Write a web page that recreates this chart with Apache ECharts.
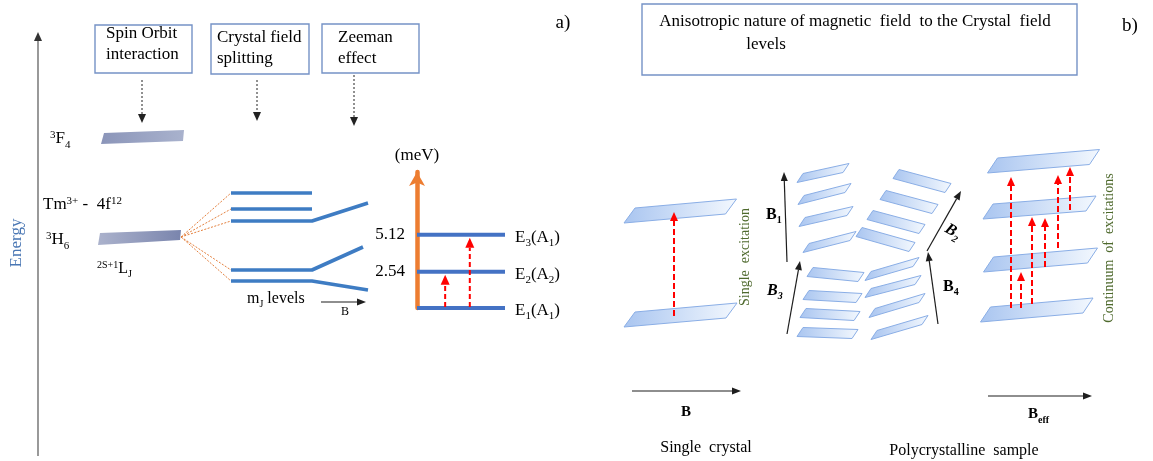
<!DOCTYPE html>
<html>
<head>
<meta charset="utf-8">
<title>Tm3+ crystal-field levels and Zeeman splitting</title>
<script src="https://cdn.jsdelivr.net/npm/echarts@6/dist/echarts.min.js"></script>
<style>
  html, body { margin: 0; padding: 0; background: #ffffff; }
  #chart { width: 1153px; height: 461px; }
</style>
</head>
<body>
<div id="chart"></div>
<script>
// ---------------------------------------------------------------------------
// Physical values: crystal-field levels of the Tm3+ 3H6 ground multiplet
// ---------------------------------------------------------------------------
const levelEnergies = [0, 2.54, 5.12];                     // meV
const levelNames = ['E_{1}(A_{1})', 'E_{2}(A_{2})', 'E_{3}(A_{1})'];
const transitionsFrom = [0, 0];                            // meV
const transitionsTo = [2.54, 5.12];                        // meV
const transitionSlots = [0.32, 0.6];                       // position along the level (0..1)
const energyAxisMax = 9.5;

// ---------------------------------------------------------------------------
// Schematic geometry, in diagram units (x: 0..1153, y: 0..461 from the top)
// ---------------------------------------------------------------------------
const headerBoxes = [[95, 25, 192, 73], [211, 24, 309, 74], [322, 24, 419, 73], [642, 4, 1077, 75]];
const headerArrows = [[142, 80, 142, 123], [257, 80, 257, 121], [354, 75, 354, 126]];
const energyArrow = [[38, 456, 38, 32]];
const termBars = [
  [101, 144, 104, 133, 184, 130, 183, 141],   // 3F4
  [98, 245, 100, 233, 181, 230, 180, 240]     // 3H6
];
const fanApex = [181, 237];
const cfLevelY = [193, 209, 221, 270, 281];
const cfSpan = [231, 312];
const zeemanEnds = [null, null, [368, 203], [363, 247], [368, 290]];
const fieldArrows = [
  [321, 302, 366, 302],     // B (Zeeman)
  [632, 391, 741, 391],     // B single crystal
  [988, 396, 1092, 396],    // B_eff
  [787, 262, 784, 172],     // B1
  [787, 334, 800, 261],     // B3
  [927, 251, 961, 191],     // B2
  [938, 324, 928, 252]      // B4
];
// big plates: centre line [xl, yl, xr, yr]
const singleCrystalPlates = [[629.5, 215.5, 731, 206.5], [629.5, 319.5, 731.5, 310.5]];
const continuumPlates = [
  [992.5, 165.5, 1094.5, 157], [988, 211.5, 1091, 203.5],
  [988.5, 264.5, 1092.5, 255.5], [985.5, 314.5, 1088, 305.5]
];
// small plates of the randomly oriented grains
const grainPlates = [
  [800, 178, 846, 168], [801, 200, 848, 188], [802, 222, 850, 211], [806, 248, 853, 236],
  [896, 174, 948, 188], [883, 195, 935, 209], [870, 215, 922, 229], [859, 232, 912, 247],
  [810, 272, 861, 277], [806, 295, 859, 298], [803, 313, 857, 316], [800, 332, 855, 334],
  [868, 276, 916, 262], [868, 293, 918, 280], [872, 313, 922, 298], [874, 335, 925, 320]
];
const singleExcitation = [[674, 316, 674, 212]];
const continuumExcitations = [
  [1011, 308, 1011, 177], [1021, 308, 1021, 272], [1032, 304, 1032, 217],
  [1045, 267, 1045, 218], [1058, 248, 1058, 175], [1070, 210, 1070, 167]
];

// Text labels: content, anchor, size and look
const labels = [
  { t: 'Spin Orbit', x: 106, y: 35, fs: 17 },
  { t: 'interaction', x: 106, y: 56, fs: 17 },
  { t: 'Crystal field', x: 217, y: 39, fs: 17 },
  { t: 'splitting', x: 217, y: 60, fs: 17 },
  { t: 'Zeeman', x: 338, y: 39, fs: 17 },
  { t: 'effect', x: 338, y: 60, fs: 17 },
  { t: '^{3}F_{4}', x: 50, y: 140, fs: 17 },
  { t: 'Tm^{3+} -  4f^{12}', x: 43, y: 206, fs: 17 },
  { t: '^{3}H_{6}', x: 46, y: 241, fs: 17 },
  { t: '^{2S+1}L_{J}', x: 97, y: 270, fs: 16 },
  { t: 'Energy', x: 18, y: 243, fs: 17, align: 'center', rot: 90, color: '#4a77b4' },
  { t: 'm_{J} levels', x: 247, y: 300, fs: 16 },
  { t: 'B', x: 345, y: 313, fs: 12, align: 'center' },
  { t: 'a)', x: 563, y: 25, fs: 19, align: 'center' },
  { t: 'b)', x: 1130, y: 28, fs: 19, align: 'center' },
  { t: 'Anisotropic nature of magnetic  field  to the Crystal  field', x: 855, y: 23, fs: 17, align: 'center' },
  { t: 'levels', x: 766, y: 46, fs: 17, align: 'center' },
  { t: 'Single  excitation', x: 747, y: 257, fs: 14, align: 'center', rot: 90, color: '#4f6a2e' },
  { t: 'Continuum  of  excitations', x: 1111, y: 248, fs: 14, align: 'center', rot: 90, color: '#4f6a2e' },
  { t: 'B_{1}', x: 766, y: 216, fs: 16, weight: 'bold' },
  { t: 'B_{3}', x: 767, y: 292, fs: 16, weight: 'bold', italic: true },
  { t: 'B_{2}', x: 952, y: 233, fs: 16, weight: 'bold', italic: true, align: 'center', rot: -30 },
  { t: 'B_{4}', x: 943, y: 288, fs: 16, weight: 'bold' },
  { t: 'B', x: 686, y: 414, fs: 15, weight: 'bold', align: 'center' },
  { t: 'B_{eff}', x: 1028, y: 416, fs: 15, weight: 'bold' },
  { t: 'Single  crystal', x: 706, y: 449, fs: 16, align: 'center' },
  { t: 'Polycrystalline  sample', x: 964, y: 452, fs: 16, align: 'center' }
];

// ---------------------------------------------------------------------------
// Helpers
// ---------------------------------------------------------------------------
const SERIF = '"Liberation Serif", "Times New Roman", serif';

function richFor(fs, o) {
  const w = o.weight || 'normal';
  const st = o.italic ? 'italic' : 'normal';
  const small = Math.round(fs * 0.65);
  const f = (size) => st + ' ' + w + ' ' + size + 'px ' + SERIF;
  return {
    n: { font: f(fs), verticalAlign: 'bottom', padding: [0, 0, Math.round(fs * 0.18), 0] },
    sup: { font: f(small), verticalAlign: 'bottom', padding: [0, 0, Math.round(fs * 0.58), 0] },
    sub: { font: f(small), verticalAlign: 'bottom', padding: [0, 0, 0, 0] }
  };
}

// '^{..}' -> superscript, '_{..}' -> subscript
function markup(s) {
  let out = '', buf = '', i = 0;
  const flush = () => { if (buf) { out += '{n|' + buf + '}'; buf = ''; } };
  while (i < s.length) {
    const c = s[i];
    if ((c === '^' || c === '_') && s[i + 1] === '{') {
      const j = s.indexOf('}', i + 2);
      flush();
      out += '{' + (c === '^' ? 'sup' : 'sub') + '|' + s.slice(i + 2, j) + '}';
      i = j + 1;
    } else { buf += c; i++; }
  }
  flush();
  return out;
}

function textEl(p, o) {
  return {
    type: 'text', x: p[0], y: p[1],
    rotation: (o.rot || 0) * Math.PI / 180,
    style: {
      text: markup(o.t), rich: richFor(o.fs, o),
      fill: o.color || '#000000',
      align: o.align || 'left', verticalAlign: 'middle'
    }
  };
}

function arrowShape(a, b, st) {
  const dx = b[0] - a[0], dy = b[1] - a[1];
  const len = Math.hypot(dx, dy) || 1;
  const ux = dx / len, uy = dy / len;
  const hl = st.headLen, hw = st.headWidth / 2;
  const bx = b[0] - ux * hl, by = b[1] - uy * hl;
  return {
    type: 'group',
    children: [
      { type: 'line', shape: { x1: a[0], y1: a[1], x2: bx, y2: by },
        style: { stroke: st.color, lineWidth: st.width, lineDash: st.dash || null } },
      { type: 'polygon',
        shape: { points: [[b[0], b[1]], [bx - uy * hw, by + ux * hw], [bx + uy * hw, by - ux * hw]] },
        style: { fill: st.headColor || st.color } }
    ]
  };
}

function arrowSeries(id, data, st) {
  return {
    type: 'custom', id, coordinateSystem: 'cartesian2d', xAxisIndex: 0, yAxisIndex: 0,
    silent: true, data,
    renderItem(params, api) {
      const a = api.coord([api.value(0), api.value(1)]);
      const b = api.coord([api.value(2), api.value(3)]);
      return arrowShape(a, b, st);
    }
  };
}

const plateFill = () => new echarts.graphic.LinearGradient(0, 0, 1, 0, [
  { offset: 0, color: '#a9c5f0' }, { offset: 1, color: '#f3f8fe' }
]);

function plateSeries(id, data, h, s) {
  return {
    type: 'custom', id, coordinateSystem: 'cartesian2d', xAxisIndex: 0, yAxisIndex: 0,
    silent: true, data,
    renderItem(params, api) {
      const l = api.coord([api.value(0), api.value(1)]);
      const r = api.coord([api.value(2), api.value(3)]);
      return {
        type: 'polygon',
        shape: { points: [
          [l[0] - s / 2, l[1] + h / 2], [l[0] + s / 2, l[1] - h / 2],
          [r[0] + s / 2, r[1] - h / 2], [r[0] - s / 2, r[1] + h / 2]
        ] },
        style: { fill: plateFill(), stroke: '#8aaee6', lineWidth: 1 }
      };
    }
  };
}

// ---------------------------------------------------------------------------
// Chart
// ---------------------------------------------------------------------------
const chart = echarts.init(document.getElementById('chart'), null, { renderer: 'canvas' });

const series = [
  // header boxes
  {
    type: 'custom', id: 'boxes', coordinateSystem: 'cartesian2d', xAxisIndex: 0, yAxisIndex: 0,
    silent: true, data: headerBoxes,
    renderItem(params, api) {
      const a = api.coord([api.value(0), api.value(1)]);
      const b = api.coord([api.value(2), api.value(3)]);
      return { type: 'rect', shape: { x: a[0], y: a[1], width: b[0] - a[0], height: b[1] - a[1] },
        style: { fill: '#ffffff', stroke: '#7592c6', lineWidth: 1.4 } };
    }
  },
  arrowSeries('headerArrows', headerArrows, { color: '#222222', width: 1, dash: [2, 2], headLen: 9, headWidth: 8 }),
  arrowSeries('energyAxis', energyArrow, { color: '#808080', width: 1.6, headLen: 9, headWidth: 8, headColor: '#333333' }),
  // term bars 3F4 and 3H6
  {
    type: 'custom', id: 'termBars', coordinateSystem: 'cartesian2d', xAxisIndex: 0, yAxisIndex: 0,
    silent: true, data: termBars,
    renderItem(params, api) {
      const pts = [];
      for (let k = 0; k < 8; k += 2) pts.push(api.coord([api.value(k), api.value(k + 1)]));
      const stops = params.dataIndex === 0
        ? [{ offset: 0, color: '#8b95b9' }, { offset: 1, color: '#a9b2cd' }]
        : [{ offset: 0, color: '#abb2cc' }, { offset: 1, color: '#7a85ad' }];
      return { type: 'polygon', shape: { points: pts },
        style: { fill: new echarts.graphic.LinearGradient(0, 0, 1, 0, stops) } };
    }
  },
  // dotted fan from 3H6 to the crystal-field levels
  {
    type: 'custom', id: 'fan', coordinateSystem: 'cartesian2d', xAxisIndex: 0, yAxisIndex: 0,
    silent: true, data: cfLevelY.map(y => [cfSpan[0], y]),
    renderItem(params, api) {
      const a = api.coord(fanApex);
      const b = api.coord([api.value(0), api.value(1)]);
      return { type: 'line', shape: { x1: a[0], y1: a[1], x2: b[0], y2: b[1] },
        style: { stroke: '#e4803d', lineWidth: 1, lineDash: [2, 1.5] } };
    }
  },
  // crystal-field levels with their Zeeman branches
  {
    type: 'custom', id: 'cfLevels', coordinateSystem: 'cartesian2d', xAxisIndex: 0, yAxisIndex: 0,
    silent: true, data: cfLevelY.map(y => [cfSpan[0], y]),
    renderItem(params, api) {
      const y = api.value(1);
      const pts = [api.coord([cfSpan[0], y]), api.coord([cfSpan[1], y])];
      const z = zeemanEnds[params.dataIndex];
      if (z) pts.push(api.coord(z));
      return { type: 'polyline', shape: { points: pts },
        style: { stroke: '#3e7cc3', lineWidth: 3.6, fill: null, lineJoin: 'round' } };
    }
  },
  arrowSeries('fieldArrows', fieldArrows, { color: '#1e1e1e', width: 1.2, headLen: 9, headWidth: 7 }),
  plateSeries('singleCrystal', singleCrystalPlates, 15, 11),
  plateSeries('continuum', continuumPlates, 15, 10),
  plateSeries('grains', grainPlates, 9, 6),
  arrowSeries('singleExcitation', singleExcitation, { color: '#ff0000', width: 2, dash: [6, 3], headLen: 9, headWidth: 8 }),
  arrowSeries('continuumExcitations', continuumExcitations, { color: '#ff0000', width: 2, dash: [6, 3], headLen: 9, headWidth: 8 }),
  // text
  {
    type: 'custom', id: 'labels', coordinateSystem: 'cartesian2d', xAxisIndex: 0, yAxisIndex: 0,
    silent: true, data: labels.map(l => [l.x, l.y]),
    renderItem(params, api) {
      return textEl(api.coord([api.value(0), api.value(1)]), labels[params.dataIndex]);
    }
  },

  // ----- energy-level panel (meV scale) -----
  {
    type: 'custom', id: 'levels', coordinateSystem: 'cartesian2d', xAxisIndex: 1, yAxisIndex: 1,
    silent: true, data: levelEnergies.map(e => [0, e]),
    renderItem(params, api) {
      const e = api.value(1);
      const a = api.coord([0, e]), b = api.coord([1, e]);
      const children = [
        { type: 'line', shape: { x1: a[0], y1: a[1], x2: b[0], y2: b[1] },
          style: { stroke: '#4472c4', lineWidth: 4 } },
        textEl([b[0] + 10, b[1] + 4], { t: levelNames[params.dataIndex], fs: 17 })
      ];
      if (e > 0) {
        children.push(textEl([a[0] - 12, a[1] + 1], { t: e.toFixed(2), fs: 17, align: 'right' }));
      }
      return { type: 'group', children };
    }
  },
  {
    type: 'custom', id: 'transitions', coordinateSystem: 'cartesian2d', xAxisIndex: 1, yAxisIndex: 1,
    silent: true, data: transitionsTo.map((e, i) => [transitionSlots[i], transitionsFrom[i], transitionSlots[i], e]),
    renderItem(params, api) {
      const a = api.coord([api.value(0), api.value(1)]);
      const b = api.coord([api.value(2), api.value(3)]);
      a[1] -= 1; b[1] += 3;
      return arrowShape(a, b, { color: '#ff0000', width: 2, dash: [5, 3], headLen: 10, headWidth: 9 });
    }
  }
];

chart.setOption({
  animation: false,
  backgroundColor: '#ffffff',
  grid: [
    { left: 0, right: 0, top: 0, bottom: 0 },
    { left: 417, top: 172, width: 88, height: 136 }
  ],
  xAxis: [
    { type: 'value', gridIndex: 0, min: 0, max: 1153, show: false },
    { type: 'value', gridIndex: 1, min: 0, max: 1, show: false }
  ],
  yAxis: [
    { type: 'value', gridIndex: 0, min: 0, max: 461, inverse: true, show: false },
    {
      type: 'value', gridIndex: 1, min: 0, max: energyAxisMax,
      name: '(meV)', nameLocation: 'end', nameGap: 8,
      nameTextStyle: { fontFamily: SERIF, fontSize: 17, color: '#000000', align: 'center' },
      axisLine: { show: true, symbol: ['none', 'arrow'], symbolSize: [12, 14],
        lineStyle: { color: '#ed7d31', width: 4.5 } },
      axisTick: { show: false }, axisLabel: { show: false }, splitLine: { show: false }
    }
  ],
  series
});
</script>
</body>
</html>
